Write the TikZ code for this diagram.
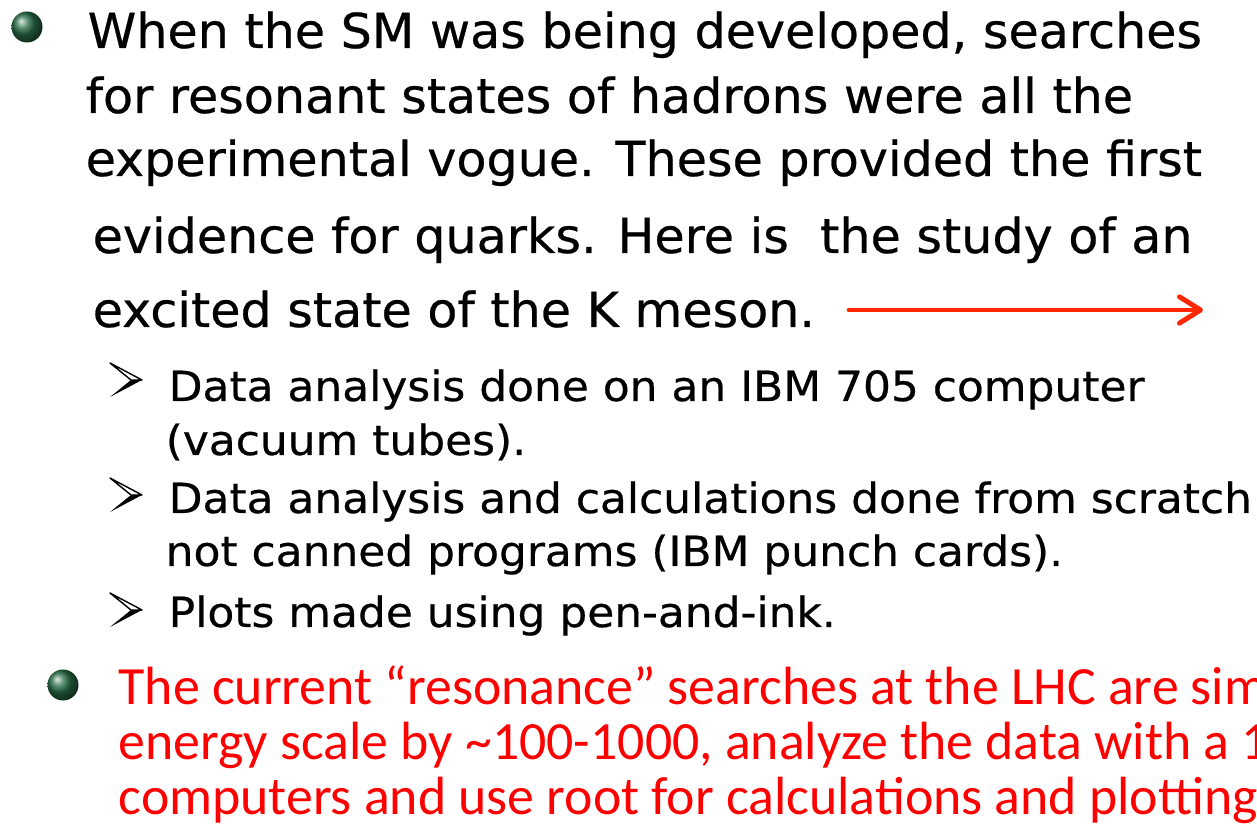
\documentclass[tikz,border=0pt]{standalone}
\usepackage{fontspec}
\setmainfont{DejaVu Sans}[BoldFont={DejaVu Sans}, BoldFeatures={FakeBold=0.5}]
\newfontfamily\calfont{Carlito}
\usepackage{tikz}
\usetikzlibrary{arrows.meta}
\definecolor{ballgreen}{RGB}{40,110,70}
\definecolor{arrred}{RGB}{255,40,0}
\definecolor{txtred}{RGB}{255,0,0}
\tikzset{
  % main lines of text
  bodytxt/.style  = {anchor=base west, inner sep=0pt, font=\bfseries\fontsize{13.7}{16}\selectfont,
                     xscale=1.02, transform shape},
  subtxt/.style   = {anchor=base west, inner sep=0pt, font=\bfseries\fontsize{11.8}{14}\selectfont,
                     xscale=1.058, transform shape},
  redtxt/.style   = {anchor=base west, inner sep=0pt, text=txtred,
                     font=\calfont\fontsize{15.3}{18}\selectfont},
  % bullets
  greenball/.style = {circle, inner sep=0pt, minimum size=0.31cm, ball color=ballgreen},
  redarrow/.style  = {-{Straight Barb[length=6pt,width=7.5pt,line width=1.4pt,round]},
                      line width=1.4pt, line cap=round, draw=arrred},
}
\newcommand{\subbullet}[2]{% x, y of the tip
  \fill[black] (#1-11,#2) -- (#1,#2) -- (#1-32,#2+17) -- cycle;
  \filldraw[fill=white, draw=black, line width=0.4pt, line join=round] (#1-32,#2-17) -- (#1,#2) -- (#1-11,#2) -- cycle;
}
\begin{document}
\begin{tikzpicture}[x=0.01cm, y=-0.01cm]
  \useasboundingbox (0,0) rectangle (1257,828);
  \clip (0,0) rectangle (1257,828);

  % first bullet
  \node[greenball] (b1) at (27,27) {};
  \node[bodytxt] (l1) at (87,48)  {When the SM was being developed, searches};
  \node[bodytxt] (l2) at (85,113) {for resonant states of hadrons were all the};
  \node[bodytxt] (l3) at (85,176) {experimental vogue. These provided the first};
  \node[bodytxt] (l4) at (92,253) {evidence for quarks. Here is\ \ the study of an};
  \node[bodytxt] (l5) at (92,327) {excited state of the K meson.};
  \coordinate (arrS) at (849,310);
  \coordinate (arrE) at (1203,310);
  \draw[redarrow] (arrS) -- (arrE);

  % sub bullets
  \subbullet{142}{380}
  \node[subtxt] (s1) at (168,401) {Data analysis done on an IBM 705 computer};
  \node[subtxt] (s1b) at (165,455) {(vacuum tubes).};
  \subbullet{142}{495}
  \node[subtxt] (s2) at (168,513) {Data analysis and calculations done from scratch};
  \node[subtxt] (s2b) at (165,566) {not canned programs (IBM punch cards).};
  \subbullet{142}{610}
  \node[subtxt] (s3) at (168,627) {Plots made using pen-and-ink.};

  % second bullet
  \node[greenball] (b2) at (63,685) {};
  \node[redtxt] (r1) at (118,705) {The current “resonance” searches at the LHC are sim};
  \node[redtxt] (r2) at (118,760) {energy scale by \textasciitilde100-1000, analyze the data with a 1};
  \node[redtxt] (r3) at (118,815) {computers and use root for calculations and plotting.};
\end{tikzpicture}
\end{document}
